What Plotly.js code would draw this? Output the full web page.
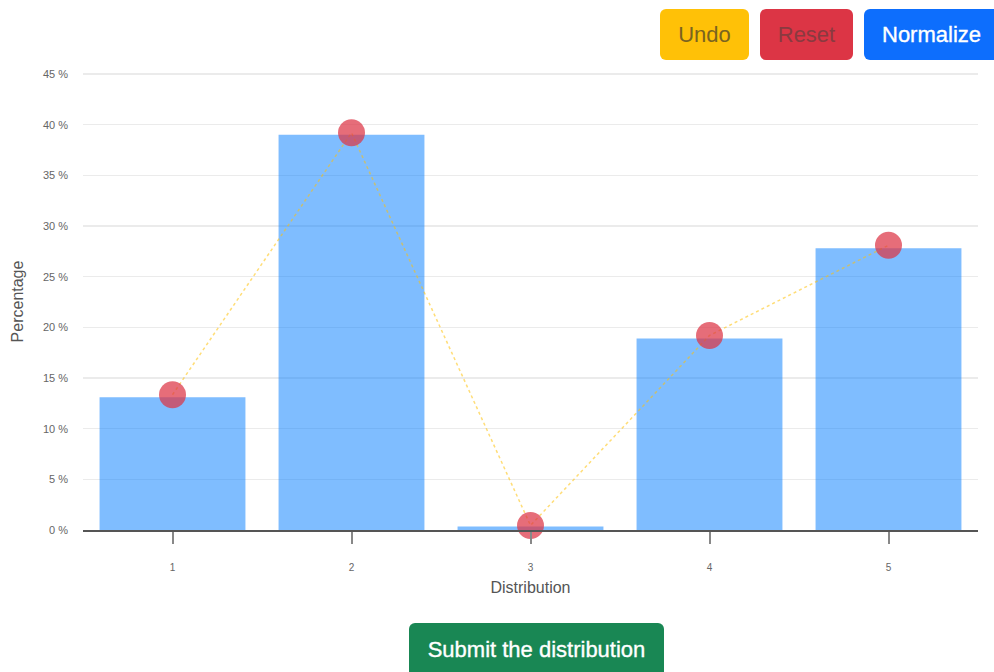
<!DOCTYPE html>
<html>
<head>
<meta charset="utf-8">
<script src="https://cdn.plot.ly/plotly-3.0.1.min.js"></script>
<style>
  html, body { margin:0; padding:0; background:#fff; overflow:hidden; }
  #chart { position:absolute; left:0; top:0; width:994px; height:672px; }
  .btn { position:absolute; border:none; border-radius:6px; font-family:"Liberation Sans", Arial, sans-serif; font-size:22px; font-weight:normal; display:flex; align-items:center; justify-content:center; box-sizing:border-box; -webkit-text-stroke:0.35px currentColor; }
  #undo { left:660px; top:9px; width:89px; height:51px; background:#ffc107; color:#7a6420; -webkit-text-stroke:0; }
  #reset { left:760px; top:9px; width:93px; height:51px; background:#dc3545; color:#8a3a40; -webkit-text-stroke:0; }
  #norm { left:864px; top:9px; width:140px; height:51px; background:#0d6efd; color:#fff; justify-content:flex-start; padding-left:18px; }
  #submit { left:409px; top:623px; width:255px; height:60px; background:#198754; color:#fff; align-items:flex-start; padding-top:14px; }
</style>
</head>
<body>
<div id="chart"></div>
<div class="btn" id="undo">Undo</div>
<div class="btn" id="reset">Reset</div>
<div class="btn" id="norm">Normalize</div>
<div class="btn" id="submit">Submit the distribution</div>
<script>
const categories = ['1', '2', '3', '4', '5'];
const barValues = [13.1, 39.0, 0.35, 18.9, 27.8];
const pointValues = [13.35, 39.2, 0.45, 19.2, 28.1];
const yTickValues = [0, 5, 10, 15, 20, 25, 30, 35, 40, 45];
const yTickText = yTickValues.map(v => v + ' %');

const bars = {
  type: 'bar', x: categories, y: barValues,
  marker: { color: 'rgba(0,123,255,0.5)', line: { width: 0 } },
  hoverinfo: 'none', showlegend: false
};
const points = {
  type: 'scatter', mode: 'lines+markers', x: categories, y: pointValues,
  line: { color: 'rgba(255,193,7,0.55)', width: 1.5, dash: 'dot' },
  marker: { color: 'rgba(220,53,69,0.72)', size: 27 },
  hoverinfo: 'none', showlegend: false, cliponaxis: false
};

const layout = {
  width: 994, height: 672,
  margin: { l: 83, r: 16, t: 73, b: 142 },
  paper_bgcolor: '#fff', plot_bgcolor: '#fff',
  bargap: 0.185,
  font: { family: '"Liberation Sans", Arial, sans-serif', color: '#444' },
  xaxis: {
    type: 'category',
    showgrid: false, zeroline: false,
    showline: true, linecolor: '#555', linewidth: 1.5,
    ticks: 'outside', ticklen: 12, tickwidth: 2, tickcolor: '#888',
    tickfont: { size: 10, color: '#666' }, ticklabelstandoff: 15,
    title: { text: 'Distribution', font: { size: 16, color: '#555' }, standoff: 10 },
    fixedrange: true
  },
  yaxis: {
    range: [0, 45.1], tickvals: yTickValues, ticktext: yTickText,
    showgrid: true, gridcolor: '#ebebeb', gridwidth: 1.5,
    zeroline: false, showline: false, ticks: '',
    tickfont: { size: 11, color: '#666' }, ticklabelstandoff: 14,
    title: { text: 'Percentage', font: { size: 16, color: '#555' }, standoff: 15 },
    fixedrange: true
  }
};

Plotly.newPlot('chart', [bars, points], layout, { displayModeBar: false, staticPlot: true });
</script>
</body>
</html>
